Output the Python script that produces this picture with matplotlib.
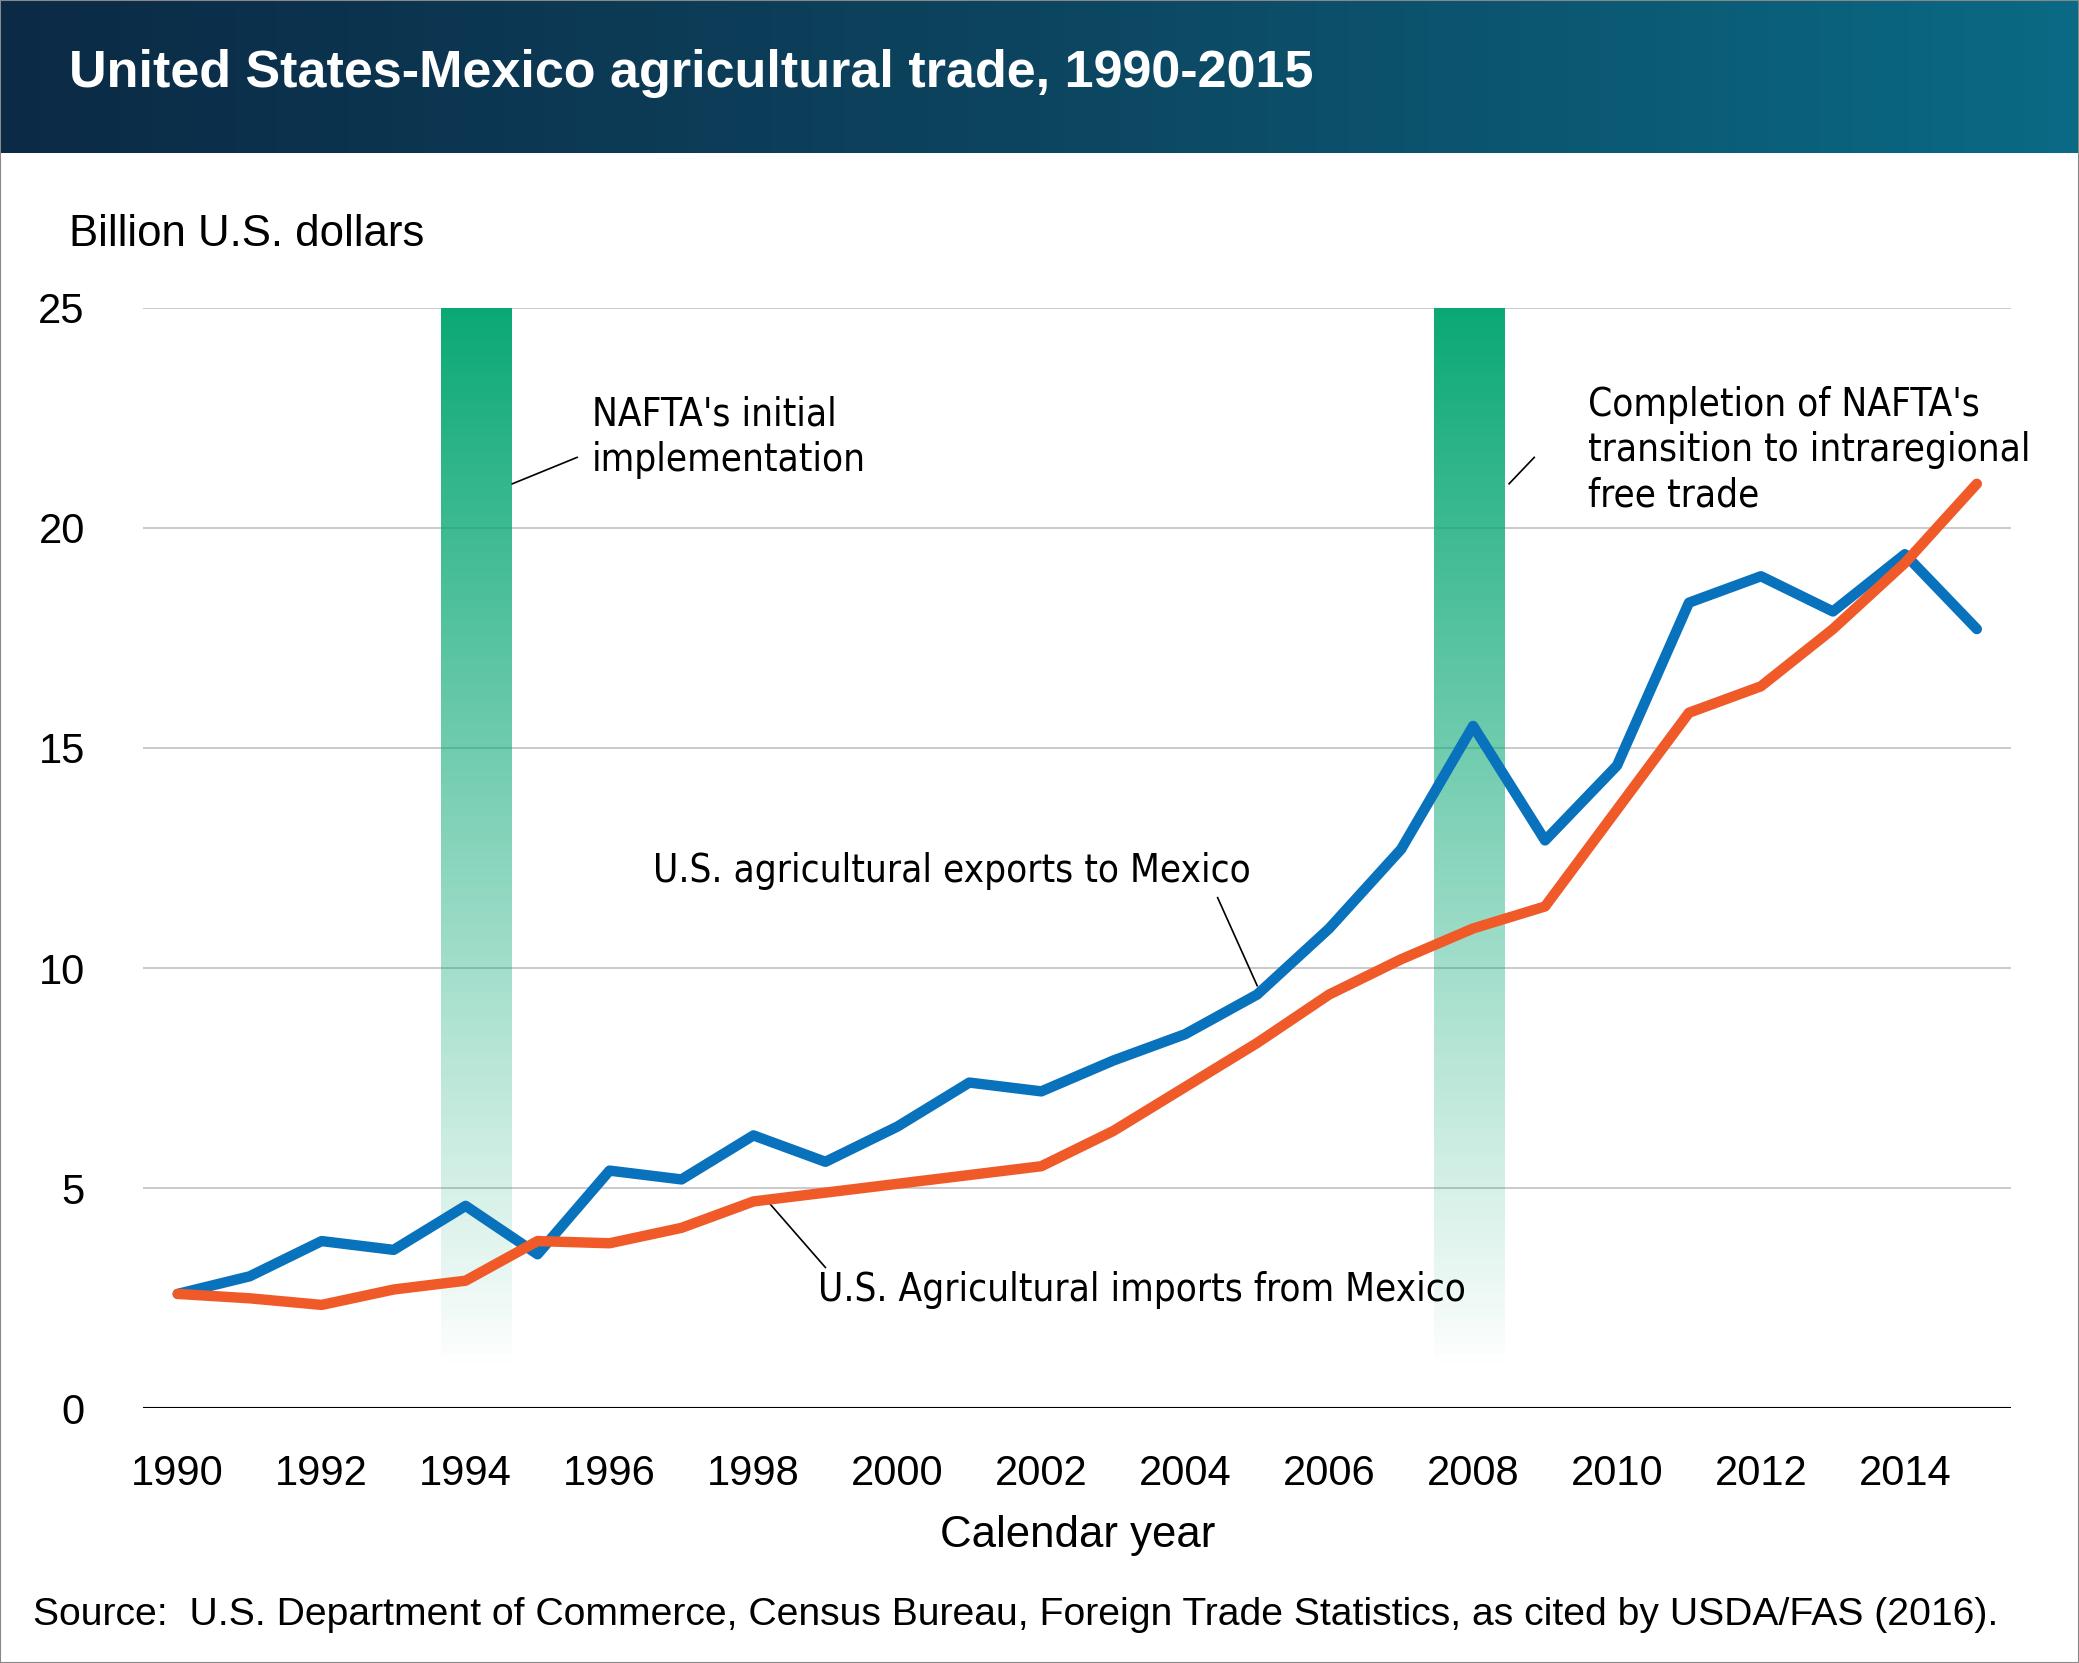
import numpy as np
import matplotlib
matplotlib.use("Agg")
import matplotlib.pyplot as plt
from matplotlib.colors import LinearSegmentedColormap

years = list(range(1990, 2016))
exports = [2.6, 3.0, 3.8, 3.6, 4.6, 3.5, 5.4, 5.2, 6.2, 5.6, 6.4, 7.4, 7.2, 7.9, 8.5,
           9.4, 10.9, 12.7, 15.5, 12.9, 14.6, 18.3, 18.9, 18.1, 19.4, 17.7]
imports = [2.6, 2.5, 2.35, 2.7, 2.9, 3.8, 3.75, 4.1, 4.7, 4.9, 5.1, 5.3, 5.5, 6.3, 7.3,
           8.3, 9.4, 10.2, 10.9, 11.4, 13.6, 15.8, 16.4, 17.7, 19.2, 21.0]
nafta_bars = [1994.15, 2007.95]
xticks = list(range(1990, 2015, 2))

plt.rcParams['font.family'] = ['Liberation Sans', 'DejaVu Sans']

W, H = 1568, 1254
fig = plt.figure(figsize=(2079 / 150, 1663 / 150), dpi=150)

# header band
hax = fig.add_axes([0, 1 - 115 / H, 1, 115 / H])
grad = np.linspace(0, 1, 256).reshape(1, -1)
hcmap = LinearSegmentedColormap.from_list("h", ["#0b2a45", "#0d4560", "#0a6a85"])
hax.imshow(grad, aspect="auto", cmap=hcmap, extent=[0, 1, 0, 1])
hax.set_axis_off()
hax.text(52 / W, 0.52, "United States-Mexico agricultural trade, 1990-2015", color="white",
         fontsize=25, fontweight="bold", va="center", transform=hax.transAxes)

ax = fig.add_axes([108 / W, 1 - 1062 / H, (1517 - 108) / W, (1062 - 232) / H])
ax.set_xlim(1989.52, 2015.48)
ax.set_ylim(0, 25)

gcmap = LinearSegmentedColormap.from_list("g", [(0.04, 0.66, 0.46, 1.0), (0.04, 0.66, 0.46, 0.0)])
for xc in nafta_bars:
    ax.imshow(np.linspace(0, 1, 256).reshape(-1, 1), aspect="auto", cmap=gcmap,
              extent=[xc - 0.49, xc + 0.49, 0.85, 25], origin="upper", zorder=1)

for y in [5, 10, 15, 20, 25]:
    ax.axhline(y, color="#c8c8c8", lw=0.9, zorder=0)
ax.axhline(0, color="black", lw=1.5, zorder=3)

ax.plot(years, exports, color="#0872bd", lw=5, zorder=4, solid_capstyle="round")
ax.plot(years, imports, color="#f05a28", lw=5, zorder=5, solid_capstyle="round")

for s in ax.spines.values():
    s.set_visible(False)
ax.set_xticks(xticks)
ax.tick_params(length=0, labelsize=20, pad=22)
ax.set_yticks([0, 5, 10, 15, 20, 25])
ax.tick_params(axis="y", pad=28)
ax.set_xlabel("Calendar year", fontsize=21, labelpad=10)

fig.text(52 / W, 1 - 177 / H, "Billion U.S. dollars", fontsize=21, va="center")

an = dict(family='DejaVu Sans', fontstretch='condensed', fontsize=18.5, zorder=6)
ax.text(1995.75, 21.1, "NAFTA's initial\nimplementation", va="bottom", linespacing=1.25, **an)
ax.plot([1994.65, 1995.55], [21.0, 21.6], color="black", lw=0.8)
ax.text(2009.6, 20.3, "Completion of NAFTA's\ntransition to intraregional\nfree trade", va="bottom",
        linespacing=1.25, **an)
ax.plot([2008.5, 2008.85], [21.0, 21.6], color="black", lw=0.8)
ax.text(1996.6, 12.2, "U.S. agricultural exports to Mexico", va="center", **an)
ax.plot([2004.45, 2005.0], [11.6, 9.6], color="black", lw=0.8)
ax.text(1998.9, 2.7, "U.S. Agricultural imports from Mexico", va="center", **an)
ax.plot([1998.2, 1999.0], [4.7, 3.2], color="black", lw=0.8)

fig.text(25 / W, 1 - 1218 / H, "Source:  U.S. Department of Commerce, Census Bureau, Foreign Trade Statistics, as cited by USDA/FAS (2016).",
         fontsize=18.8, va="center")
fig.add_artist(plt.Rectangle((0, 0), 1, 1, fill=False, ec="#888888", lw=1, transform=fig.transFigure))

fig.savefig("out.png", dpi=150)
